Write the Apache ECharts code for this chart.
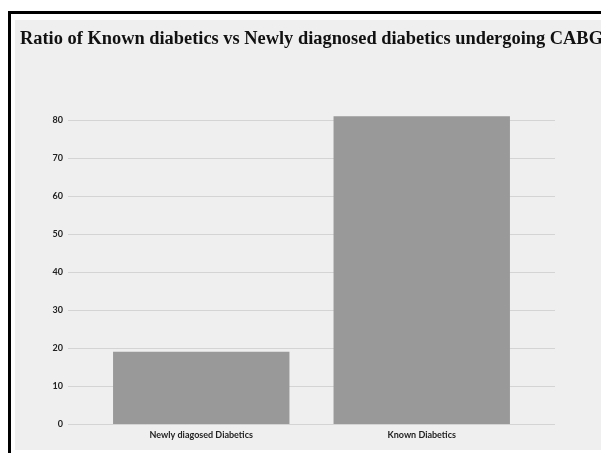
<!DOCTYPE html>
<html>
<head>
<meta charset="utf-8">
<script src="https://cdn.jsdelivr.net/npm/echarts@6/dist/echarts.min.js"></script>
<style>
html,body{margin:0;padding:0;background:#fff;}
#chart{width:601px;height:453px;}
</style>
</head>
<body>
<div id="chart"></div>
<script>
var titleText = 'Ratio of Known diabetics vs Newly diagnosed diabetics undergoing CABG';
var categories = ['Newly diagosed Diabetics', 'Known Diabetics'];
var values = [19, 81];
var yTicks = [0, 10, 20, 30, 40, 50, 60, 70, 80];

var chart = echarts.init(document.getElementById('chart'), null, {renderer: 'canvas'});
var option = {
  backgroundColor: '#ffffff',
  animation: false,
  graphic: [
    {type: 'rect', z: -10, shape: {x: 15, y: 20, width: 600, height: 430}, style: {fill: '#efefef'}},
    {type: 'rect', z: -9, shape: {x: 9.5, y: 12.5, width: 620, height: 460}, style: {fill: 'none', stroke: '#000', lineWidth: 3}}
  ],
  title: {
    text: titleText,
    left: 15, top: 25,
    textStyle: {fontFamily: 'Liberation Serif', fontWeight: 'bold', fontSize: 18.4, color: '#111'}
  },
  grid: [
    {left: 68, right: 46, top: 120, bottom: 29},
    {left: 91, right: 69, top: 82, bottom: 29}
  ],
  xAxis: [
    {gridIndex: 0, type: 'category', data: categories, show: false},
    {gridIndex: 1, type: 'category', data: categories,
     axisLine: {show: false}, axisTick: {show: false},
     axisLabel: {margin: 7, fontFamily: 'Lato', fontWeight: 'bold', fontSize: 9, color: '#222'}}
  ],
  yAxis: [
    {gridIndex: 0, type: 'value', min: yTicks[0], max: yTicks[yTicks.length - 1], interval: 10,
     axisLine: {show: false}, axisTick: {show: false},
     axisLabel: {margin: 5, fontFamily: 'Lato', fontWeight: 'bold', fontSize: 9, color: '#222'},
     splitLine: {lineStyle: {color: '#d4d4d4', width: 1}}},
    {gridIndex: 1, type: 'value', min: 0, max: 90, interval: 10, show: false, splitLine: {show: false}}
  ],
  series: [{
    type: 'bar', xAxisIndex: 1, yAxisIndex: 1,
    data: values, barWidth: '80%',
    itemStyle: {color: '#999999'}
  }]
};
chart.setOption(option);
</script>
</body>
</html>
